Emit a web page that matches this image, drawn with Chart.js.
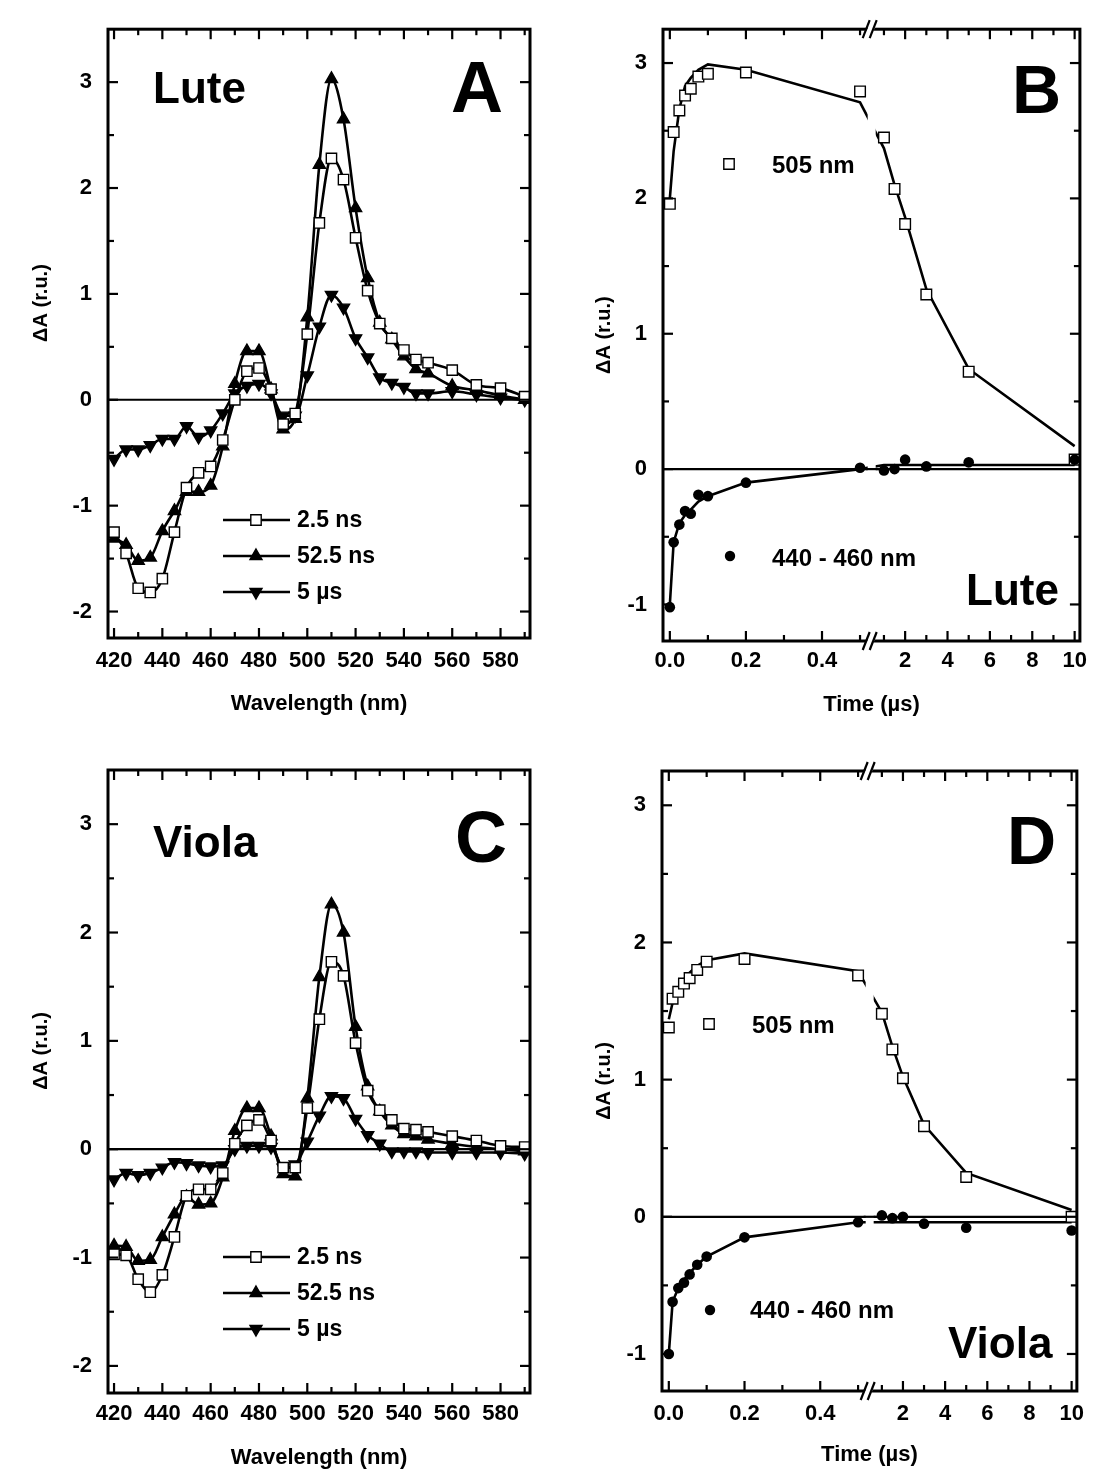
<!DOCTYPE html>
<html>
<head>
<meta charset="utf-8">
<script src="https://cdn.jsdelivr.net/npm/chart.js@4.4.1/dist/chart.umd.min.js"></script>
<style>
  body { margin: 0; background: #fff; width: 1094px; height: 1471px; position: relative; overflow: hidden; }
  canvas { position: absolute; }
</style>
</head>
<body>
<canvas id="panelA" width="547" height="735" style="left:0;top:0;width:547px;height:735px"></canvas>
<canvas id="panelB" width="547" height="735" style="left:547px;top:0;width:547px;height:735px"></canvas>
<canvas id="panelC" width="547" height="735" style="left:0;top:736px;width:547px;height:735px"></canvas>
<canvas id="panelD" width="547" height="735" style="left:547px;top:736px;width:547px;height:735px"></canvas>
<script>
// spectra (panels A and C)
const wavelengths = [420, 425, 430, 435, 440, 445, 450, 455, 460, 465, 470, 475, 480, 485, 490, 495,
                     500, 505, 510, 515, 520, 525, 530, 535, 540, 545, 550, 560, 570, 580, 590];

const lute2_5ns  = [-1.25, -1.45, -1.78, -1.82, -1.69, -1.25, -0.83, -0.69, -0.63, -0.38, 0.00, 0.27, 0.30, 0.10, -0.23, -0.13,
                    0.62, 1.67, 2.28, 2.08, 1.53, 1.03, 0.72, 0.58, 0.47, 0.38, 0.35, 0.28, 0.14, 0.11, 0.03];
const lute52_5ns = [-1.31, -1.37, -1.52, -1.49, -1.24, -1.05, -0.87, -0.87, -0.81, -0.44, 0.15, 0.46, 0.46, 0.10, -0.28, -0.18,
                    0.78, 2.22, 3.03, 2.65, 1.81, 1.15, 0.73, 0.57, 0.41, 0.29, 0.25, 0.13, 0.09, 0.04, 0.00];
const lute5us    = [-0.56, -0.47, -0.47, -0.43, -0.37, -0.37, -0.25, -0.35, -0.29, -0.13, 0.06, 0.13, 0.15, 0.06, -0.15, -0.15,
                    0.23, 0.69, 0.99, 0.87, 0.58, 0.40, 0.21, 0.16, 0.12, 0.06, 0.06, 0.08, 0.05, 0.02, 0.00];

const viola2_5ns  = [-0.97, -0.98, -1.20, -1.32, -1.16, -0.81, -0.43, -0.37, -0.37, -0.22, 0.05, 0.22, 0.27, 0.08, -0.17, -0.17,
                     0.38, 1.20, 1.73, 1.60, 0.98, 0.54, 0.36, 0.27, 0.19, 0.18, 0.16, 0.12, 0.08, 0.03, 0.02];
const viola52_5ns = [-0.89, -0.90, -1.03, -1.02, -0.81, -0.60, -0.44, -0.51, -0.50, -0.26, 0.17, 0.38, 0.38, 0.12, -0.23, -0.25,
                     0.47, 1.59, 2.26, 2.00, 1.13, 0.58, 0.35, 0.22, 0.14, 0.12, 0.09, 0.05, 0.02, 0.00, -0.02];
const viola5us    = [-0.28, -0.22, -0.24, -0.22, -0.17, -0.12, -0.13, -0.15, -0.16, -0.15, 0.00, 0.03, 0.03, 0.02, -0.17, -0.14,
                     0.07, 0.31, 0.49, 0.47, 0.28, 0.13, 0.05, -0.02, -0.02, -0.02, -0.03, -0.03, -0.03, -0.03, -0.04];

const wlTickValues = [420, 440, 460, 480, 500, 520, 540, 560, 580];
const wlMinorTicks = [430, 450, 470, 490, 510, 530, 550, 570, 590];
const specYTicks = [-2, -1, 0, 1, 2, 3];
const specYMinor = [-1.5, -0.5, 0.5, 1.5, 2.5];

// kinetics (panels B and D), time in microseconds
const times = [0, 0.01, 0.025, 0.04, 0.055, 0.075, 0.1, 0.2, 0.5, 1, 1.5, 2, 3, 5, 10];

const lute505     = [1.96, 2.49, 2.65, 2.76, 2.81, 2.90, 2.92, 2.93, 2.79, 2.45, 2.07, 1.81, 1.29, 0.72, 0.07];
const lute505Fit  = [2.00, 2.35, 2.66, 2.83, 2.89, 2.95, 2.99, 2.95, 2.71, 2.37, 2.10, 1.86, 1.33, 0.74, 0.17];
const lute440     = [-1.02, -0.54, -0.41, -0.31, -0.33, -0.19, -0.20, -0.10, 0.01, -0.01, 0.00, 0.07, 0.02, 0.05, 0.07];
const lute440Fit  = [-1.00, -0.54, -0.40, -0.34, -0.30, -0.24, -0.20, -0.10, 0.00, 0.03, 0.03, 0.03, 0.03, 0.03, 0.03];

const viola505    = [1.38, 1.59, 1.64, 1.70, 1.74, 1.80, 1.86, 1.88, 1.76, 1.48, 1.22, 1.01, 0.66, 0.29, 0.00];
const viola505Fit = [1.44, 1.56, 1.66, 1.73, 1.78, 1.83, 1.87, 1.92, 1.79, 1.49, 1.24, 1.02, 0.67, 0.32, 0.05];
const viola440    = [-1.00, -0.62, -0.52, -0.48, -0.42, -0.35, -0.29, -0.15, -0.04, 0.01, -0.01, 0.00, -0.05, -0.08, -0.10];
const viola440Fit = [-1.00, -0.62, -0.52, -0.46, -0.41, -0.35, -0.29, -0.15, -0.04, -0.04, -0.04, -0.04, -0.04, -0.04, -0.04];

const timeTickValues = [0, 0.2, 0.4, 2, 4, 6, 8, 10];
const timeTickLabels = ['0.0', '0.2', '0.4', '2', '4', '6', '8', '10'];
const timeMinorTicks = [0.1, 0.3, 0.5, 1, 3, 5, 7, 9];
const kinYTicks = [-1, 0, 1, 2, 3];
const kinYMinor = [-0.5, 0.5, 1.5, 2.5];

// broken time axis: 0..0.5 linear, then a compressed 0.5..10 part
const BREAK_T = 0.5, BREAK_U = 0.535, RIGHT_SCALE = 0.0557, BREAK_MARK = 0.528;
function tu(t) { return t <= BREAK_T ? t : BREAK_U + (t - BREAK_T) * RIGHT_SCALE; }

const FAMILY = "'Liberation Sans', Arial, Helvetica, sans-serif";
Chart.defaults.font.family = FAMILY;
Chart.defaults.font.weight = 'bold';
Chart.defaults.color = '#000';
Chart.defaults.animation = false;

function drawMarker(ctx, kind, x, y) {
  ctx.save();
  ctx.strokeStyle = '#000';
  ctx.fillStyle = '#000';
  ctx.lineWidth = 1.4;
  ctx.beginPath();
  if (kind === 'square') {
    ctx.fillStyle = '#fff';
    ctx.rect(x - 5.2, y - 5.2, 10.4, 10.4);
    ctx.fill(); ctx.stroke();
  } else if (kind === 'up') {
    ctx.moveTo(x, y - 7); ctx.lineTo(x + 6, y + 3.5); ctx.lineTo(x - 6, y + 3.5); ctx.closePath();
    ctx.fill(); ctx.stroke();
  } else if (kind === 'down') {
    ctx.moveTo(x, y + 7); ctx.lineTo(x + 6, y - 3.5); ctx.lineTo(x - 6, y - 3.5); ctx.closePath();
    ctx.fill(); ctx.stroke();
  } else {
    ctx.arc(x, y, 5.2, 0, Math.PI * 2);
    ctx.fill();
  }
  ctx.restore();
}

function framePlugin(cfg) {
  return {
    id: 'frame',
    beforeDatasetsDraw(chart) {
      const {ctx, chartArea: a, scales: {y}} = chart;
      const y0 = y.getPixelForValue(0);
      ctx.save();
      ctx.strokeStyle = '#000';
      ctx.lineWidth = 2.2;
      ctx.beginPath(); ctx.moveTo(a.left, y0); ctx.lineTo(a.right, y0); ctx.stroke();
      ctx.restore();
    },
    afterDatasetsDraw(chart) {
      if (cfg.breakAt == null) return;
      const {ctx, chartArea: a, scales: {x, y}} = chart;
      const bx = x.getPixelForValue(cfg.breakAt);
      const y0 = y.getPixelForValue(0);
      ctx.save();
      ctx.fillStyle = '#fff';
      ctx.fillRect(bx - 3, a.top + 2, 8, a.bottom - a.top - 4);
      ctx.strokeStyle = '#000';
      ctx.lineWidth = 2.2;
      ctx.beginPath(); ctx.moveTo(bx - 5, y0); ctx.lineTo(bx + 7, y0); ctx.stroke();
      ctx.restore();
    },
    afterDraw(chart) {
      const {ctx, chartArea: a, scales: {x, y}} = chart;
      const seg = (x1, y1, x2, y2) => { ctx.beginPath(); ctx.moveTo(x1, y1); ctx.lineTo(x2, y2); ctx.stroke(); };
      ctx.save();
      ctx.strokeStyle = '#000';
      ctx.lineWidth = 2.2;
      cfg.xMajor.forEach(v => { const p = x.getPixelForValue(v); seg(p, a.bottom, p, a.bottom - 10); seg(p, a.top, p, a.top + 10); });
      cfg.xMinor.forEach(v => { const p = x.getPixelForValue(v); seg(p, a.bottom, p, a.bottom - 6); seg(p, a.top, p, a.top + 6); });
      cfg.yMajor.forEach(v => { const p = y.getPixelForValue(v); seg(a.left, p, a.left + 10, p); seg(a.right, p, a.right - 10, p); });
      cfg.yMinor.forEach(v => { const p = y.getPixelForValue(v); seg(a.left, p, a.left + 6, p); seg(a.right, p, a.right - 6, p); });
      ctx.lineWidth = 3;
      ctx.strokeRect(a.left, a.top, a.right - a.left, a.bottom - a.top);

      if (cfg.breakAt != null) {
        const bx = x.getPixelForValue(cfg.breakAt);
        [a.top, a.bottom].forEach(yy => {
          ctx.fillStyle = '#fff';
          ctx.beginPath();
          ctx.moveTo(bx - 7, yy + 8); ctx.lineTo(bx, yy - 8); ctx.lineTo(bx + 7, yy - 8); ctx.lineTo(bx, yy + 8);
          ctx.closePath(); ctx.fill();
          ctx.lineWidth = 2.2;
          seg(bx - 8, yy + 9, bx - 1, yy - 9);
          seg(bx - 1, yy + 9, bx + 6, yy - 9);
        });
      }

      ctx.fillStyle = '#000';
      ctx.textAlign = 'left';
      ctx.textBaseline = 'alphabetic';
      cfg.texts.forEach(t => {
        ctx.font = `bold ${t.size}px ${FAMILY}`;
        ctx.fillText(t.text, t.x, t.y);
        if (t.marker) drawMarker(ctx, t.marker, t.mx, t.my);
      });

      (cfg.legend || []).forEach(l => {
        ctx.lineWidth = 2.6;
        seg(223, l.y, 290, l.y);
        drawMarker(ctx, l.marker, 256, l.y);
        ctx.font = `bold 23px ${FAMILY}`;
        ctx.textBaseline = 'middle';
        ctx.fillText(l.text, 297, l.y + 1);
        ctx.textBaseline = 'alphabetic';
      });
      ctx.restore();
    }
  };
}

function axisFont(size) { return {family: FAMILY, size: size, weight: 'bold'}; }

function makeChart(id, datasets, o) {
  new Chart(document.getElementById(id), {
    type: 'line',
    data: {datasets: datasets},
    options: {
      responsive: false,
      animation: false,
      layout: {padding: {top: o.top, right: o.right, left: 0, bottom: 0}},
      plugins: {legend: {display: false}, tooltip: {enabled: false}},
      scales: {
        x: {
          type: 'linear', min: o.xMin, max: o.xMax,
          grid: {display: false, drawTicks: false}, border: {display: false},
          ticks: {font: axisFont(22), color: '#000', padding: o.xPad, autoSkip: false, maxRotation: 0,
                  callback: (v, i) => o.xLabels[i]},
          afterBuildTicks: s => { s.ticks = o.xTicks.map(v => ({value: v})); },
          afterFit: s => { s.height = o.xHeight; },
          title: {display: true, text: o.xTitle, font: axisFont(22), color: '#000', padding: {top: 0, bottom: o.xTitlePad}}
        },
        y: {
          type: 'linear', min: o.yMin, max: o.yMax,
          grid: {display: false, drawTicks: false}, border: {display: false},
          ticks: {font: axisFont(22), color: '#000', padding: 16, autoSkip: false},
          afterBuildTicks: s => { s.ticks = o.yTicks.map(v => ({value: v})); },
          afterFit: s => { s.width = o.yWidth; },
          title: {display: true, text: o.yTitle, font: axisFont(20), color: '#000', padding: {top: o.yTitlePad, bottom: 0}}
        }
      }
    },
    plugins: [framePlugin(o.frame)]
  });
}

function spectrumSets(s25, s525, s5) {
  const pts = ys => wavelengths.map((w, i) => ({x: w, y: ys[i]}));
  const base = {borderColor: '#000', borderWidth: 2.6, pointBorderColor: '#000', pointBorderWidth: 1.4,
                cubicInterpolationMode: 'monotone', fill: false};
  return [
    Object.assign({}, base, {label: '2.5 ns', data: pts(s25), pointStyle: 'rect', pointRadius: 7.3, pointBackgroundColor: '#fff'}),
    Object.assign({}, base, {label: '52.5 ns', data: pts(s525), pointStyle: 'triangle', pointRadius: 7, pointBackgroundColor: '#000'}),
    Object.assign({}, base, {label: '5 µs', data: pts(s5), pointStyle: 'triangle', pointRotation: 180, pointRadius: 7, pointBackgroundColor: '#000'})
  ];
}

function kineticSets(d505, f505, d440, f440) {
  const pts = ys => times.map((t, i) => ({x: tu(t), y: ys[i]}));
  return [
    {label: '440 - 460 nm', data: pts(d440), showLine: false, pointStyle: 'circle', pointRadius: 5.3,
     pointBackgroundColor: '#000', pointBorderColor: '#000', pointBorderWidth: 0},
    {label: '505 nm', data: pts(d505), showLine: false, pointStyle: 'rect', pointRadius: 7.5,
     pointBackgroundColor: '#fff', pointBorderColor: '#000', pointBorderWidth: 1.4},
    {label: '505 nm fit', data: pts(f505), pointRadius: 0, borderColor: '#000', borderWidth: 2.6, tension: 0},
    {label: '440 - 460 nm fit', data: pts(f440), pointRadius: 0, borderColor: '#000', borderWidth: 2.6, tension: 0}
  ];
}

const specLegend = y0 => [
  {text: '2.5 ns', marker: 'square', y: y0},
  {text: '52.5 ns', marker: 'up', y: y0 + 36},
  {text: '5 µs', marker: 'down', y: y0 + 72}
];

// leading spaces lift the rotated title a little above the axis centre, as in the original
const specCommon = {xMin: 417.5, xMax: 592.2, xTicks: wlTickValues, xLabels: wlTickValues.map(String),
                    yMin: -2.25, yMax: 3.5, yTicks: specYTicks, yWidth: 108, yTitlePad: 29, right: 17,
                    xTitle: 'Wavelength (nm)', yTitle: '           ΔA (r.u.)'};
const kinCommon = {xMin: -0.018, xMax: 1.078, xTicks: timeTickValues.map(tu), xLabels: timeTickLabels,
                   yMin: -1.27, yMax: 3.25, yTicks: kinYTicks, yTitlePad: 45, xTitle: 'Time (µs)', yTitle: 'ΔA (r.u.)'};

makeChart('panelA', spectrumSets(lute2_5ns, lute52_5ns, lute5us), Object.assign({}, specCommon, {
  top: 18, xHeight: 97, xPad: 10, xTitlePad: 18,
  frame: {xMajor: wlTickValues, xMinor: wlMinorTicks, yMajor: specYTicks, yMinor: specYMinor,
          texts: [{text: 'Lute', size: 44, x: 153, y: 103}, {text: 'A', size: 72, x: 451, y: 112}],
          legend: specLegend(520)}
}));

makeChart('panelC', spectrumSets(viola2_5ns, viola52_5ns, viola5us), Object.assign({}, specCommon, {
  top: 34, xHeight: 78, xPad: 8, xTitlePad: 0,
  frame: {xMajor: wlTickValues, xMinor: wlMinorTicks, yMajor: specYTicks, yMinor: specYMinor,
          texts: [{text: 'Viola', size: 44, x: 153, y: 121}, {text: 'C', size: 72, x: 455, y: 126}],
          legend: specLegend(521)}
}));

makeChart('panelB', kineticSets(lute505, lute505Fit, lute440, lute440Fit), Object.assign({}, kinCommon, {
  top: 17, right: 10, xHeight: 94, yWidth: 116, xPad: 7, xTitlePad: 17,
  frame: {xMajor: timeTickValues.map(tu), xMinor: timeMinorTicks.map(tu), yMajor: kinYTicks, yMinor: kinYMinor,
          breakAt: BREAK_MARK,
          texts: [{text: 'B', size: 68, x: 465, y: 113},
                  {text: '505 nm', size: 24, x: 225, y: 173, marker: 'square', mx: 182, my: 164},
                  {text: '440 - 460 nm', size: 24, x: 225, y: 566, marker: 'dot', mx: 183, my: 556},
                  {text: 'Lute', size: 44, x: 419, y: 605}]}
}));

makeChart('panelD', kineticSets(viola505, viola505Fit, viola440, viola440Fit), Object.assign({}, kinCommon, {
  top: 35, right: 11, xHeight: 80, yWidth: 115, xPad: 10, xTitlePad: 3,
  frame: {xMajor: timeTickValues.map(tu), xMinor: timeMinorTicks.map(tu), yMajor: kinYTicks, yMinor: kinYMinor,
          breakAt: BREAK_MARK,
          texts: [{text: 'D', size: 68, x: 460, y: 128},
                  {text: '505 nm', size: 24, x: 205, y: 297, marker: 'square', mx: 162, my: 288},
                  {text: '440 - 460 nm', size: 24, x: 203, y: 582, marker: 'dot', mx: 163, my: 574},
                  {text: 'Viola', size: 44, x: 401, y: 622}]}
}));
</script>
</body>
</html>
